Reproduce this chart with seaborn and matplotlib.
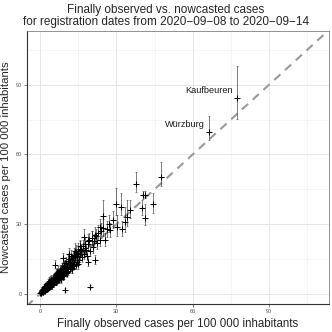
import numpy as np
import pandas as pd
import matplotlib
matplotlib.use("Agg")
import matplotlib.pyplot as plt
import seaborn as sns

# ---- data ----
obs_a = [0.0, 0.2, 0.4, 0.5, 0.7, 0.8, 0.9, 1.0, 1.1, 1.2, 1.3, 1.4, 1.5, 1.6, 1.7, 1.8, 1.9, 2.0, 2.1, 2.2,
         2.3, 2.4, 2.5, 2.6, 2.7, 2.8, 2.9, 3.0, 3.1, 3.2, 3.3, 3.4, 3.5, 3.6, 3.7, 3.8, 3.9, 4.0, 4.1, 4.2,
         4.3, 4.4, 4.5, 4.6, 4.7, 4.8, 4.9, 5.0]
now_a = [0.4, 0.3, 1.0, 0.2, 1.3, 0.6, 1.8, 0.9, 2.0, 1.5, 0.8, 2.4, 1.2, 2.1, 2.9, 1.4, 2.5, 3.2, 1.7, 2.8,
         3.6, 2.0, 3.3, 2.4, 4.1, 3.0, 2.2, 3.8, 4.5, 2.7, 3.5, 4.9, 3.1, 4.2, 5.3, 3.4, 4.6, 3.7, 5.6, 4.0,
         5.0, 3.6, 6.1, 4.4, 5.4, 3.9, 5.9, 4.8]
low_a = [0.0, 0.0, 0.2, 0.0, 0.4, 0.0, 0.8, 0.1, 1.0, 0.6, 0.1, 1.3, 0.3, 1.1, 1.7, 0.5, 1.4, 2.0, 0.7, 1.6,
         2.3, 1.0, 2.0, 1.2, 2.7, 1.7, 1.0, 2.4, 3.0, 1.4, 2.1, 3.3, 1.7, 2.7, 3.6, 2.0, 3.0, 2.2, 3.8, 2.4,
         3.3, 2.1, 4.2, 2.8, 3.6, 2.3, 4.0, 3.1]
upp_a = [1.2, 1.0, 2.0, 0.9, 2.4, 1.4, 3.0, 1.8, 3.2, 2.6, 1.7, 3.7, 2.3, 3.3, 4.3, 2.5, 3.8, 4.6, 2.9, 4.2,
         5.1, 3.2, 4.8, 3.7, 5.7, 4.4, 3.5, 5.4, 6.3, 4.1, 5.1, 6.7, 4.6, 5.9, 7.2, 5.0, 6.4, 5.4, 7.6, 5.7,
         6.9, 5.3, 8.2, 6.2, 7.4, 5.8, 8.0, 6.7]

obs_b = [5.1, 5.2, 5.3, 5.4, 5.5, 5.6, 5.7, 5.8, 5.9, 6.0, 6.1, 6.2, 6.3, 6.4, 6.5, 6.6, 6.7, 6.8, 6.9, 7.0,
         7.1, 7.2, 7.3, 7.5, 7.6, 7.7, 7.8, 8.0, 8.1, 8.2, 8.3, 8.5, 8.6, 8.7, 8.9, 9.0, 9.1, 9.3, 9.4, 9.5,
         9.7, 9.8, 9.9, 9.2, 6.8, 8.4]
now_b = [6.3, 4.2, 5.8, 7.0, 4.9, 6.6, 5.2, 7.5, 12.5, 6.1, 7.8, 5.0, 6.9, 8.4, 5.6, 7.3, 9.0, 6.2, 8.0, 5.8,
         7.6, 9.5, 6.5, 8.3, 6.9, 10.1, 7.4, 8.8, 6.6, 9.9, 7.9, 10.6, 8.3, 9.2, 7.5, 10.9, 8.6, 11.3, 9.4, 8.1,
         12.0, 9.6, 10.3, 15.4, 8.6, 6.4]
low_b = [4.9, 3.0, 4.4, 5.5, 3.7, 5.1, 4.0, 6.0, 11.0, 4.7, 6.2, 3.8, 5.4, 6.8, 4.3, 5.8, 7.3, 4.8, 6.4, 4.5,
         6.0, 7.8, 5.0, 6.6, 5.4, 8.3, 5.8, 7.1, 5.1, 8.1, 6.2, 8.7, 6.6, 7.4, 5.9, 9.0, 6.8, 9.3, 7.6, 6.4,
         10.0, 7.8, 8.4, 13.4, 6.9, 4.9]
upp_b = [8.1, 5.8, 7.6, 9.0, 6.5, 8.5, 7.0, 9.6, 14.5, 8.0, 9.9, 6.7, 8.9, 10.6, 7.4, 9.4, 11.3, 8.1, 10.2, 7.6,
         9.7, 11.9, 8.4, 10.6, 9.0, 12.6, 9.5, 11.1, 8.6, 12.4, 10.1, 13.2, 10.6, 11.7, 9.6, 13.6, 11.0, 14.0, 11.9, 10.4,
         14.8, 12.0, 12.8, 17.8, 10.9, 8.5]

obs_c = [10.0, 10.2, 10.4, 10.6, 10.8, 11.0, 11.2, 11.4, 11.6, 11.8, 12.0, 12.3, 12.6, 12.9, 13.2, 13.5, 13.8, 14.1, 14.4, 14.7,
         15.0, 15.3, 15.6, 15.9, 10.5, 11.5, 12.5, 13.6, 14.8, 9.8]
now_c = [12.4, 9.1, 13.5, 10.8, 14.2, 9.8, 12.9, 15.0, 11.2, 13.8, 16.1, 11.5, 14.6, 12.2, 16.8, 13.0, 15.7, 17.9, 13.9, 16.4,
         18.5, 14.8, 17.2, 19.3, 8.8, 17.0, 10.9, 18.6, 12.7, 1.7]
low_c = [10.7, 7.6, 11.7, 9.2, 12.3, 8.2, 11.1, 13.0, 9.5, 11.9, 14.0, 9.7, 12.6, 10.3, 14.6, 11.0, 13.5, 15.6, 11.8, 14.1,
         16.0, 12.6, 14.8, 16.8, 7.3, 14.7, 9.2, 16.2, 10.6, 1.0]
upp_c = [14.6, 11.0, 15.9, 12.9, 16.7, 11.9, 15.2, 17.6, 13.4, 16.3, 18.9, 13.7, 17.2, 14.5, 19.7, 15.4, 18.5, 21.0, 16.4, 19.3,
         21.7, 17.4, 20.3, 22.6, 10.7, 19.9, 13.0, 21.8, 15.1, 2.6]

obs_d = [16.2, 16.6, 17.0, 17.4, 17.8, 18.2, 18.6, 19.0, 19.4, 19.8, 20.3, 20.8, 21.3, 21.8, 22.3, 22.9, 23.5, 24.1, 24.9, 25.6,
         26.4, 27.3, 19.0, 21.6, 15.7, 17.1]
now_d = [18.9, 15.8, 20.4, 17.2, 21.6, 19.0, 16.5, 22.7, 23.2, 18.6, 24.0, 20.1, 22.9, 25.4, 21.8, 26.1, 23.4, 27.0, 28.3, 23.2,
         27.8, 30.0, 13.9, 14.6, 20.4, 24.5]
low_d = [16.7, 13.9, 18.0, 15.2, 19.2, 16.9, 14.6, 20.2, 20.4, 16.4, 21.3, 17.8, 20.3, 22.6, 19.3, 23.2, 20.8, 24.0, 25.1, 20.6,
         24.6, 26.7, 12.0, 12.7, 18.1, 21.8]
upp_d = [21.5, 18.2, 23.2, 19.7, 24.5, 21.6, 18.9, 25.7, 26.4, 21.2, 27.2, 22.9, 25.9, 28.8, 24.8, 29.6, 26.6, 30.7, 32.1, 26.3,
         31.5, 34.0, 16.2, 16.9, 23.2, 27.8]

obs_e = [29.8, 37.8, 31.7, 34.1, 41.3, 40.2, 41.3, 44.6, 30.4, 33.4, 27.5, 23.6, 24.9, 47.6, 40.4, 19.7, 28.6, 35.5, 32.2,
         66.5, 77.6]
now_e = [38.7, 47.4, 37.6, 33.3, 42.6, 36.9, 32.8, 38.5, 29.0, 31.1, 27.5, 29.0, 33.6, 50.2, 42.6, 3.1, 31.8, 36.2, 28.0,
         69.7, 84.5]
low_e = [34.0, 44.0, 34.0, 29.3, 41.2, 34.0, 29.8, 34.9, 25.0, 26.7, 24.6, 26.3, 28.4, 46.5, 41.0, 2.5, 28.5, 32.5, 25.0,
         66.3, 75.2]
upp_e = [45.5, 52.3, 43.5, 40.5, 44.2, 40.5, 38.5, 43.6, 34.0, 37.5, 30.5, 32.2, 40.5, 56.7, 44.3, 4.0, 35.5, 40.5, 31.5,
         76.6, 98.1]

obs_f = [2.2, 2.9, 3.4, 3.9, 4.4, 4.9, 5.3, 5.8, 6.2, 6.7, 7.1, 7.6, 8.1, 8.6, 9.1, 9.6, 10.1, 10.7, 11.3, 11.9,
         12.4, 13.0, 13.7, 14.3, 15.1, 16.0, 17.5, 18.8, 20.6, 22.0, 1.4, 0.6, 3.7, 6.4, 8.8]
now_f = [3.0, 4.1, 2.8, 5.0, 5.5, 4.1, 6.8, 7.2, 5.1, 8.6, 8.2, 6.3, 9.9, 10.1, 7.6, 11.8, 11.6, 9.3, 13.4, 13.1,
         11.0, 15.3, 15.8, 12.6, 17.4, 18.3, 19.6, 21.4, 23.9, 24.8, 1.9, 1.1, 4.7, 7.8, 11.2]
low_f = [1.7, 2.7, 1.6, 3.6, 4.0, 2.8, 5.3, 5.7, 3.8, 7.0, 6.6, 4.9, 8.2, 8.4, 6.1, 9.9, 9.7, 7.6, 11.4, 11.1,
         9.2, 13.1, 13.6, 10.6, 15.1, 15.9, 17.1, 18.8, 21.1, 22.0, 0.8, 0.2, 3.3, 6.3, 9.4]
upp_f = [4.5, 5.7, 4.2, 6.6, 7.2, 5.6, 8.5, 9.0, 6.6, 10.4, 10.0, 8.0, 11.9, 12.1, 9.3, 14.0, 13.8, 11.3, 15.8, 15.5,
         13.1, 17.8, 18.4, 14.9, 20.1, 21.0, 22.5, 24.4, 27.1, 28.1, 3.1, 2.1, 6.2, 9.5, 13.1]

label_names = ["Würzburg", "Kaufbeuren"]
label_obs = [66.5, 77.6]
label_now = [69.7, 84.5]

ticks = [0, 30, 60, 90]
minor_ticks = [15, 45, 75, 105]

title = ("Finally observed vs. nowcasted cases\n"
         "for registration dates from 2020\u221209\u221208 to 2020\u221209\u221214")
xlabel = "Finally observed cases per 100 000 inhabitants"
ylabel = "Nowcasted cases per 100 000 inhabitants"

df = pd.DataFrame({
    "observed": obs_a + obs_b + obs_c + obs_d + obs_e + obs_f,
    "nowcast": now_a + now_b + now_c + now_d + now_e + now_f,
    "lower": low_a + low_b + low_c + low_d + low_e + low_f,
    "upper": upp_a + upp_b + upp_c + upp_d + upp_e + upp_f,
})

# ---- plot ----
sns.set_theme(style="white")
plt.rcParams["font.family"] = ["Liberation Sans", "DejaVu Sans"]

fig = plt.figure(figsize=(3.32, 3.32), dpi=100)
ax = fig.add_axes([0.080, 0.084, 0.911, 0.823])

xlim = (-5.3, 113.6)
ylim = (-4.4, 113.2)
ax.set_xlim(*xlim)
ax.set_ylim(*ylim)

# grid
for t in minor_ticks:
    ax.axvline(t, color="#F2F2F2", lw=0.5, zorder=0)
    ax.axhline(t, color="#F2F2F2", lw=0.5, zorder=0)
for t in ticks:
    ax.axvline(t, color="#E6E6E6", lw=0.7, zorder=0)
    ax.axhline(t, color="#E6E6E6", lw=0.7, zorder=0)

# identity line
lims = [min(xlim[0], ylim[0]), max(xlim[1], ylim[1])]
ax.plot(lims, lims, color="#9A9A9A", lw=1.5, dashes=(4, 3), zorder=1)

# error bars
ax.errorbar(df["observed"], df["nowcast"],
            yerr=[df["nowcast"] - df["lower"], df["upper"] - df["nowcast"]],
            fmt="none", ecolor=(0, 0, 0, 0.55), elinewidth=0.65, capsize=1.0,
            capthick=0.5, zorder=2)

sns.scatterplot(data=df, x="observed", y="nowcast", marker="+", color="black",
                s=16, linewidth=0.75, ax=ax, zorder=3, legend=False)

for name, xo, yn in zip(label_names, label_obs, label_now):
    ax.text(xo - 1.9, yn + 3.2, name, ha="right", va="center", fontsize=6.6, color="#1a1a1a")

ax.set_xticks(ticks)
ax.set_yticks(ticks)
ax.set_xticklabels([str(t) for t in ticks])
ax.set_yticklabels([str(t) for t in ticks])
ax.tick_params(axis="both", which="major", labelsize=4, colors="#4D4D4D",
               length=2, width=0.5, pad=1.5, bottom=True, left=True)

for side in ["left", "bottom"]:
    ax.spines[side].set_color("#333333")
    ax.spines[side].set_linewidth(0.8)
for side in ["top", "right"]:
    ax.spines[side].set_color("#808080")
    ax.spines[side].set_linewidth(0.6)

ax.set_xlabel(xlabel, fontsize=8.3, labelpad=3)
ax.set_ylabel(ylabel, fontsize=8.2, labelpad=3)
fig.text(0.5, 0.988, title, ha="center", va="top", fontsize=8.5, linespacing=1.05)

fig.savefig("out.png", dpi=100)
